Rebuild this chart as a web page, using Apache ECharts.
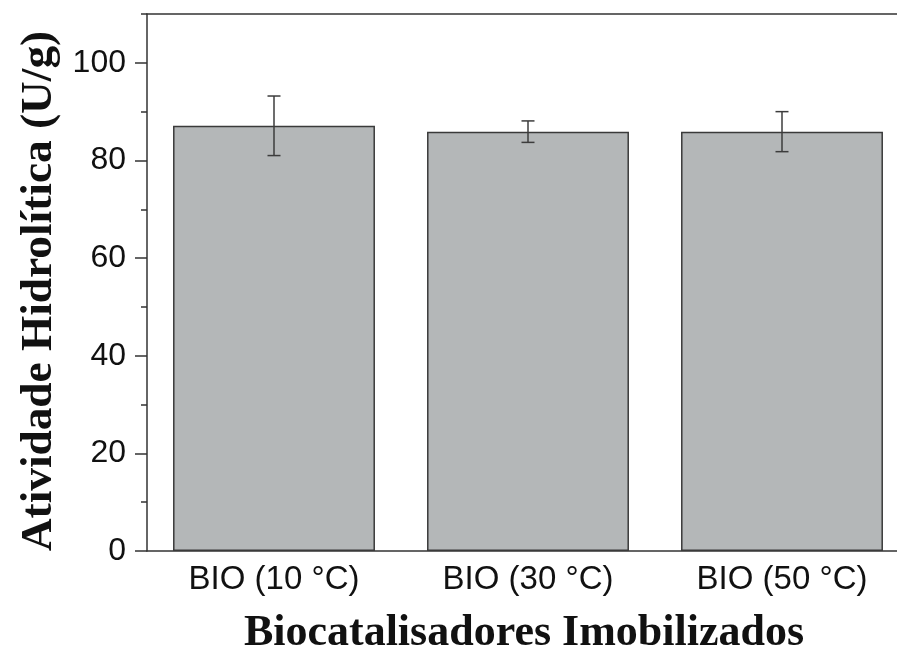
<!DOCTYPE html>
<html>
<head>
<meta charset="utf-8">
<script src="https://cdn.jsdelivr.net/npm/echarts@6/dist/echarts.min.js"></script>
<style>html,body{margin:0;padding:0;background:#fff;overflow:hidden;width:897px;height:656px}#c{width:912px;height:656px}</style>
</head>
<body>
<div id="c"></div>
<script>
const categories = ['BIO (10 °C)', 'BIO (30 °C)', 'BIO (50 °C)'];
const means = [87.1, 85.9, 85.9];
const errors = [6.1, 2.2, 4.1];
const yMajorTicks = [0, 20, 40, 60, 80, 100];
const yMinorTicks = [10, 30, 50, 70, 90, 110];

const chart = echarts.init(document.getElementById('c'), null, {renderer: 'canvas'});
const sans = 'Liberation Sans';
const axisCol = '#333';

chart.setOption({
  animation: false,
  backgroundColor: '#fff',
  grid: {left: 147, top: 14, width: 762, height: 537, containLabel: false, outerBoundsMode: 'none'},
  xAxis: [
    {
      type: 'category', data: categories, position: 'bottom',
      axisLine: {lineStyle: {color: axisCol, width: 1.5}},
      axisTick: {alignWithLabel: true, length: 11, lineStyle: {color: axisCol, width: 1.5}},
      axisLabel: {fontFamily: sans, fontSize: 33, color: '#111', margin: 12}
    },
    {
      type: 'category', data: categories, position: 'bottom', gridIndex: 0,
      axisLine: {show: false},
      axisTick: {length: 5, lineStyle: {color: axisCol, width: 1.5}},
      axisLabel: {show: false}
    },
    {
      type: 'category', data: categories, position: 'top',
      axisLine: {lineStyle: {color: axisCol, width: 1.5}},
      axisTick: {alignWithLabel: true, inside: true, length: 2, lineStyle: {color: axisCol}},
      axisLabel: {show: false}
    }
  ],
  yAxis: [
    {
      type: 'value', min: 0, max: 110, interval: 10, position: 'left',
      splitLine: {show: false},
      axisLine: {show: true, lineStyle: {color: axisCol, width: 1.5}},
      axisTick: {show: true, length: 12, customValues: yMajorTicks, lineStyle: {color: axisCol, width: 1.5}},
      axisLabel: {customValues: yMajorTicks, fontFamily: sans, fontSize: 32, color: '#111', margin: 21}
    },
    {
      type: 'value', min: 0, max: 110, interval: 10, position: 'left',
      splitLine: {show: false},
      axisLine: {show: false},
      axisTick: {show: true, length: 6, customValues: yMinorTicks, lineStyle: {color: axisCol, width: 1.5}},
      axisLabel: {show: false}
    }
  ],
  series: [
    {
      type: 'bar', data: means, xAxisIndex: 0, yAxisIndex: 0,
      barCategoryGap: '20.5%',
      itemStyle: {color: '#b4b7b8', borderColor: '#3a3a3a', borderWidth: 1.5}
    },
    {
      type: 'custom', xAxisIndex: 0, yAxisIndex: 0, z: 5,
      data: means.map((m, i) => [i, m - errors[i], m + errors[i]]),
      renderItem: function (params, api) {
        const lo = api.coord([api.value(0), api.value(1)]);
        const hi = api.coord([api.value(0), api.value(2)]);
        const hw = 6.5;
        const st = {stroke: '#3c3c3c', lineWidth: 1.5};
        return {type: 'group', children: [
          {type: 'line', shape: {x1: hi[0], y1: hi[1], x2: lo[0], y2: lo[1]}, style: st},
          {type: 'line', shape: {x1: hi[0] - hw, y1: hi[1], x2: hi[0] + hw, y2: hi[1]}, style: st},
          {type: 'line', shape: {x1: lo[0] - hw, y1: lo[1], x2: lo[0] + hw, y2: lo[1]}, style: st}
        ]};
      }
    }
  ],
  graphic: [
    {
      type: 'text', x: 40, y: 291, rotation: Math.PI / 2, scaleX: 1.03,
      style: {text: 'Atividade Hidrolítica (U/g)', font: 'bold 44px "Liberation Serif"', fill: '#111',
        textAlign: 'center', textVerticalAlign: 'middle'}
    },
    {
      type: 'text', x: 524, y: 634,
      style: {text: 'Biocatalisadores Imobilizados', font: 'bold 44px "Liberation Serif"', fill: '#111',
        textAlign: 'center', textVerticalAlign: 'middle'}
    }
  ]
});
</script>
</body>
</html>
